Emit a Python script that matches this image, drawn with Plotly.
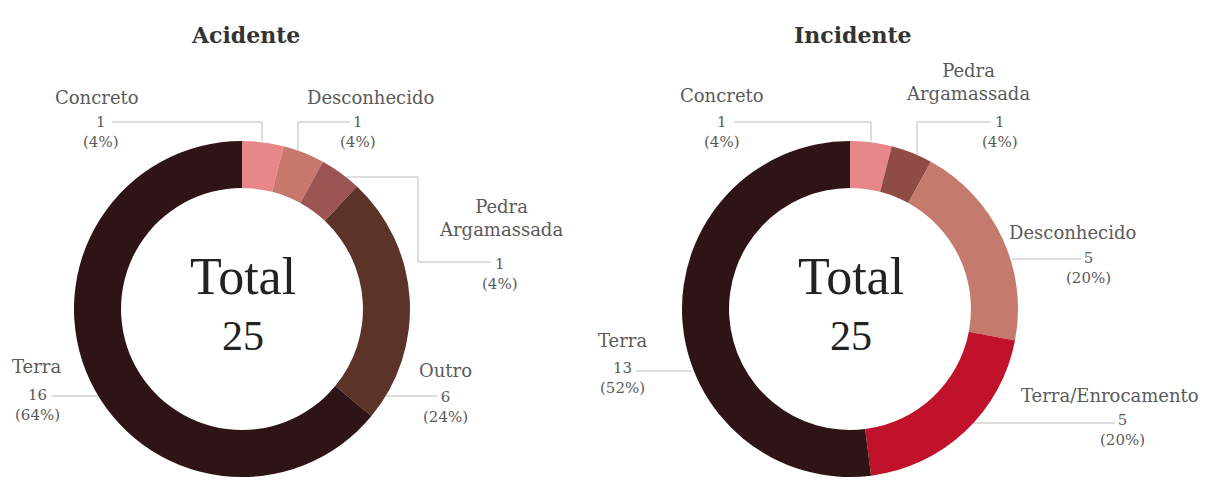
import plotly.graph_objects as go

# Dam type breakdown for the two event classes
acidente_labels = ["Concreto", "Desconhecido", "Pedra Argamassada", "Outro", "Terra"]
acidente_values = [1, 1, 1, 6, 16]
acidente_colors = ["#e8878a", "#c7776c", "#9c5552", "#5c3328", "#2e1416"]

incidente_labels = ["Concreto", "Pedra Argamassada", "Desconhecido", "Terra/Enrocamento", "Terra"]
incidente_values = [1, 1, 5, 5, 13]
incidente_colors = ["#e8878a", "#8f4c44", "#c57a6e", "#c0132b", "#2e1416"]

W, H = 1217, 480
SERIF = "Liberation Serif"
WIDE_SERIF = "DejaVu Serif"
LABEL_COLOR = "#5a5a5a"
LINE_COLOR = "#bdbdbd"


def px(x, y):
    """Pixel position -> paper coordinates."""
    return x / W, 1 - y / H


def value_text(v, total):
    return f"{v}<br>({round(100 * v / total)}%)"


def text_at(x, y, text, size, color, family=WIDE_SERIF):
    ax, ay = px(x, y)
    return dict(x=ax, y=ay, xref="paper", yref="paper", text=text, showarrow=False,
                xanchor="center", yanchor="middle",
                font=dict(family=family, size=size, color=color))


# layout of each callout: name position, value position, leader polyline (pixels)
left_callouts = {
    "Concreto": dict(name=(97, 98), val=(101, 132), line=[(112, 122), (262, 122), (262, 141)]),
    "Desconhecido": dict(name=(370, 98), val=(358, 132), line=[(350, 122), (298, 122), (298, 152)]),
    "Pedra Argamassada": dict(name=(501, 218), val=(500, 274), line=[(346, 177), (418, 177), (418, 262), (491, 262)]),
    "Outro": dict(name=(446, 370), val=(446, 407), line=[(386, 396), (437, 396)]),
    "Terra": dict(name=(36, 366), val=(37, 405), line=[(52, 396), (98, 396)]),
}
right_callouts = {
    "Concreto": dict(name=(722, 96), val=(722, 132), line=[(734, 122), (871, 122), (871, 141)]),
    "Pedra Argamassada": dict(name=(968, 82), val=(1000, 132), line=[(991, 122), (917, 122), (917, 155)]),
    "Desconhecido": dict(name=(1072, 232), val=(1088, 268), line=[(1012, 259), (1081, 259)]),
    "Terra/Enrocamento": dict(name=(1110, 395), val=(1122, 430), line=[(973, 423), (1115, 423)]),
    "Terra": dict(name=(622, 340), val=(622, 378), line=[(636, 371), (692, 371)]),
}

R = 168
charts = [
    ("Acidente", acidente_labels, acidente_values, acidente_colors, (242, 309), left_callouts),
    ("Incidente", incidente_labels, incidente_values, incidente_colors, (850, 309), right_callouts),
]

fig = go.Figure()
annotations = []
shapes = []

for title, labels, values, colors, (cx, cy), callouts in charts:
    x0, y1 = px(cx - R, cy - R)
    x1, y0 = px(cx + R, cy + R)
    fig.add_trace(go.Pie(
        labels=labels, values=values,
        marker=dict(colors=colors, line=dict(width=0)),
        hole=0.72, sort=False, direction="clockwise", rotation=0,
        textinfo="none", hoverinfo="label+value+percent",
        domain=dict(x=[x0, x1], y=[y0, y1]), showlegend=False,
    ))
    total = sum(values)

    annotations.append(text_at(cx + 3, 35, f"<b>{title}</b>", 22, "#333333"))
    annotations.append(text_at(cx + 1, 276, "Total", 52, "#222222", SERIF))
    annotations.append(text_at(cx + 1, 336, str(total), 42, "#222222", SERIF))

    for lab, v in zip(labels, values):
        c = callouts[lab]
        name = "Pedra<br>Argamassada" if lab == "Pedra Argamassada" else lab
        annotations.append(text_at(*c["name"], name, 18, LABEL_COLOR))
        annotations.append(text_at(*c["val"], value_text(v, total), 15, LABEL_COLOR))
        pts = [px(*p) for p in c["line"]]
        path = "M " + " L ".join(f"{a},{b}" for a, b in pts)
        shapes.append(dict(type="path", xref="paper", yref="paper", path=path,
                           line=dict(color=LINE_COLOR, width=1), layer="below"))

fig.update_layout(
    width=W, height=H,
    margin=dict(l=0, r=0, t=0, b=0),
    paper_bgcolor="white", plot_bgcolor="white",
    annotations=annotations, shapes=shapes,
)

fig.write_html("out.html")
